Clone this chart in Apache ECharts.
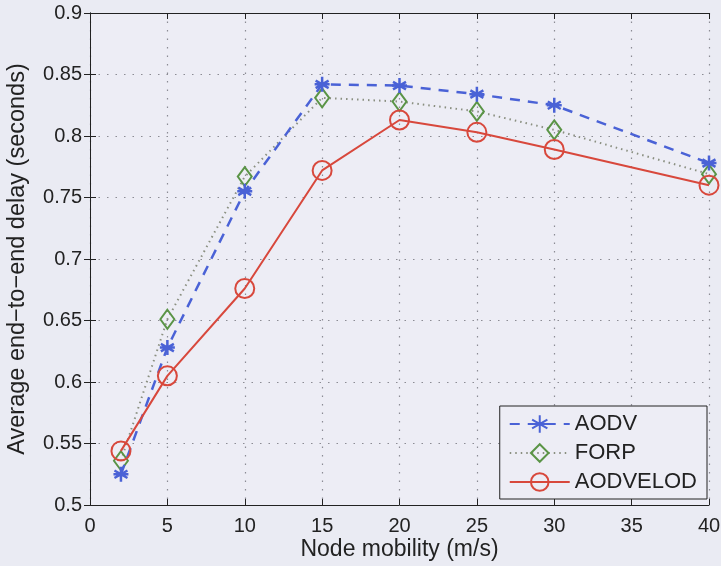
<!DOCTYPE html>
<html><head><meta charset="utf-8">
<script src="https://cdn.jsdelivr.net/npm/echarts@6/dist/echarts.min.js"></script>
<style>html,body{margin:0;padding:0;background:#eaebf3;}#c{width:721px;height:566px;}</style>
</head><body><div id="c"></div>
<script>
const mobility = [2, 5, 10, 15, 20, 25, 30, 40];
const aodv = [0.525, 0.628, 0.755, 0.842, 0.841, 0.834, 0.825, 0.778];
const forp = [0.536, 0.651, 0.767, 0.831, 0.828, 0.820, 0.805, 0.769];
const aodvelod = [0.544, 0.605, 0.676, 0.772, 0.813, 0.803, 0.789, 0.760];
const seriesNames = ['AODV', 'FORP', 'AODVELOD'];

const pair = (ys) => mobility.map((x, i) => [x, ys[i]]);
const FONT = 'Liberation Sans, Arial, sans-serif';
const star = 'path://M0,-10L0,10M-8.66,-5L8.66,5M-8.66,5L8.66,-5M-10,0L10,0';

const chart = echarts.init(document.getElementById('c'));
const axisLine = {show: true, lineStyle: {color: '#222', width: 1}};
const tick = {show: true, inside: true, length: 6, lineStyle: {color: '#222'}};
const dotted = {show: true, lineStyle: {color: '#8c8c94', type: [1.5, 7], width: 1.2}};
chart.setOption({
  backgroundColor: '#eaebf3',
  animation: false,
  grid: {left: 90, right: 12, top: 13, bottom: 61, show: true, backgroundColor: '#ededf5', borderWidth: 0,
    containLabel: false, outerBoundsMode: 'none'},
  legend: {
    right: 14, bottom: 67, orient: 'vertical', itemGap: 7, align: 'left',
    backgroundColor: '#ededf5', borderColor: '#222', borderWidth: 1,
    padding: [7, 10, 6, 9], itemWidth: 60, itemHeight: 22,
    textStyle: {fontFamily: FONT, fontSize: 22, color: '#222'},
    data: seriesNames
  },
  xAxis: [{
    type: 'value', min: 0, max: 40, interval: 5,
    name: 'Node mobility (m/s)', nameLocation: 'middle', nameGap: 33, nameMoveOverlap: false,
    nameTextStyle: {fontFamily: FONT, fontSize: 23, color: '#222'},
    axisLine: axisLine, axisTick: tick,
    axisLabel: {fontFamily: FONT, fontSize: 20, color: '#222', margin: 11},
    splitLine: dotted
  }, {
    type: 'value', min: 0, max: 40, interval: 5, position: 'top',
    axisLine: axisLine, axisTick: tick,
    axisLabel: {show: false}, splitLine: {show: false}
  }],
  yAxis: [{
    type: 'value', min: 0.5, max: 0.9, interval: 0.05,
    name: 'Average end\u2212to\u2212end delay (seconds)', nameLocation: 'middle', nameGap: 60, nameMoveOverlap: false,
    nameTextStyle: {fontFamily: FONT, fontSize: 23.5, color: '#222'},
    axisLine: axisLine, axisTick: tick,
    axisLabel: {fontFamily: FONT, fontSize: 20, color: '#222', margin: 8,
      formatter: v => String(+v.toFixed(2))},
    splitLine: dotted
  }, {
    type: 'value', min: 0.5, max: 0.9, interval: 0.05, position: 'right',
    axisLine: axisLine, axisTick: tick,
    axisLabel: {show: false}, splitLine: {show: false}
  }],
  series: [{
    name: seriesNames[0], type: 'line', data: pair(aodv),
    symbol: star, symbolSize: 15,
    lineStyle: {color: '#4a62d6', width: 2.5, type: [10, 8]},
    itemStyle: {color: '#4a62d6', borderColor: '#4a62d6', borderWidth: 2.5},
    z: 3
  }, {
    name: seriesNames[1], type: 'line', data: pair(forp),
    symbol: 'diamond', symbolSize: [14, 19],
    lineStyle: {color: '#8a8f80', width: 2, type: [1.5, 4]},
    itemStyle: {color: 'rgba(0,0,0,0)', borderColor: '#5a9446', borderWidth: 2},
    z: 2
  }, {
    name: seriesNames[2], type: 'line', data: pair(aodvelod),
    symbol: 'circle', symbolSize: 19,
    lineStyle: {color: '#d8483c', width: 2},
    itemStyle: {color: 'rgba(0,0,0,0)', borderColor: '#d8483c', borderWidth: 2},
    z: 4
  }]
});
</script></body></html>
